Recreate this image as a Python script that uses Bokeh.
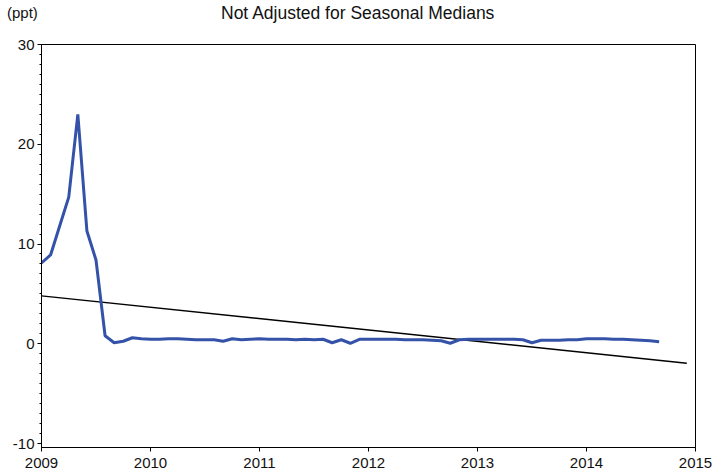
from bokeh.plotting import figure
from bokeh.models import Range1d, FixedTicker, ColumnDataSource, Div
from bokeh.layouts import column
from bokeh.embed import file_html
from bokeh.resources import INLINE
import numpy as np

# ---- data ----
start_year = 2009
monthly_values = [
    8.1, 8.9, 11.8, 14.7, 23.0, 11.3, 8.4, 0.8, 0.1, 0.25, 0.6, 0.5,      # 2009
    0.45, 0.45, 0.5, 0.5, 0.45, 0.4, 0.4, 0.4, 0.25, 0.5, 0.4, 0.45,      # 2010
    0.5, 0.45, 0.45, 0.45, 0.4, 0.45, 0.4, 0.45, 0.1, 0.4, 0.05, 0.45,    # 2011
    0.45, 0.45, 0.45, 0.45, 0.4, 0.4, 0.4, 0.35, 0.3, 0.05, 0.4, 0.45,    # 2012
    0.45, 0.45, 0.45, 0.45, 0.45, 0.4, 0.1, 0.35, 0.35, 0.35, 0.4, 0.4,   # 2013
    0.5, 0.5, 0.5, 0.45, 0.45, 0.4, 0.35, 0.3, 0.2,                       # 2014 (Jan-Sep)
]
trend_x = [2009.0, 2014.92]
trend_y = [4.8, -1.95]

x_ticks = [2009, 2010, 2011, 2012, 2013, 2014, 2015]
x_tick_labels = ["2009", "2010", "2011", "2012", "2013", "2014", "2015"]
y_ticks = [-10, 0, 10, 20, 30]
y_tick_labels = ["-10", "0", "10", "20", "30"]

title_text = "Not Adjusted for Seasonal Medians"
unit_text = "(ppt)"

months = start_year + np.arange(len(monthly_values)) / 12.0
src = ColumnDataSource(dict(x=months, y=monthly_values))

FONT = "'Liberation Sans', Arial, sans-serif"

# header: unit note at the left, chart title centred above the plot
header_html = (
    '<div style="position:relative;width:712px;height:30px;'
    "font-family:'Liberation Sans', Arial, sans-serif;color:#111111;\">"
    '<span style="position:absolute;left:7px;top:4px;font-size:15px;line-height:17px;'
    'white-space:nowrap;">' + unit_text + '</span>'
    '<span style="position:absolute;left:221px;top:3px;font-size:17.5px;line-height:20px;'
    'white-space:nowrap;">' + title_text + '</span>'
    '</div>'
)
header = Div(text=header_html, width=712, height=30, margin=0)

p = figure(width=712, height=446, output_backend="svg", toolbar_location=None,
           x_range=Range1d(2009, 2015), y_range=Range1d(-10.4, 30),
           min_border_left=41, min_border_right=17, min_border_top=14,
           min_border_bottom=29, margin=0)

p.xgrid.visible = False
p.ygrid.visible = False
p.outline_line_color = "black"
p.outline_line_alpha = 1.0
p.outline_line_width = 1
p.background_fill_color = "white"
p.border_fill_color = "white"

p.line(trend_x, trend_y, line_color="black", line_width=1.4)
p.line("x", "y", source=src, line_color="#3452a8", line_width=3)

minor = [v for v in range(-10, 31) if v not in y_ticks]
p.yaxis.ticker = FixedTicker(ticks=y_ticks, minor_ticks=minor)
p.yaxis.major_label_overrides = {t: l for t, l in zip(y_ticks, y_tick_labels)}
p.xaxis.ticker = FixedTicker(ticks=x_ticks)
p.xaxis.major_label_overrides = {t: l for t, l in zip(x_ticks, x_tick_labels)}

for ax in (p.xaxis[0], p.yaxis[0]):
    ax.axis_line_color = "black"
    ax.axis_line_width = 1
    ax.major_tick_line_color = "black"
    ax.major_tick_out = 4
    ax.major_tick_in = 0
    ax.major_label_text_font = FONT
    ax.major_label_text_font_size = "15px"
    ax.major_label_text_color = "#111111"

p.xaxis.major_label_standoff = 6
p.yaxis.major_label_standoff = 3
p.yaxis.minor_tick_line_color = "black"
p.yaxis.minor_tick_out = 2
p.yaxis.minor_tick_in = 0
p.xaxis.minor_tick_line_color = None

layout = column(header, p, spacing=0, margin=0)

open("out.html", "w").write(file_html(layout, INLINE))
